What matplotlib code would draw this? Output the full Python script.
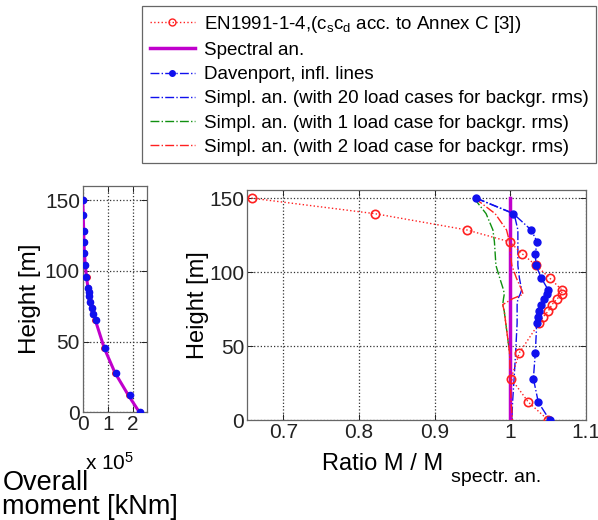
import matplotlib
matplotlib.use("Agg")
import matplotlib.pyplot as plt
from matplotlib.lines import Line2D

plt.rcParams['font.family'] = ['Liberation Sans', 'DejaVu Sans']
plt.rcParams['mathtext.fontset'] = 'custom'
plt.rcParams['mathtext.rm'] = 'Liberation Sans'
plt.rcParams['mathtext.it'] = 'Liberation Sans'

# ---------------- data ----------------
heights = [150, 139.5, 128.5, 120.5, 112.5, 104.5, 96, 88, 85, 82, 78,
           73.5, 69.5, 65.5, 45.5, 28, 12, 0]

# overall moment (x 1e5 kNm)
moment_spectral = [0.0, 0.02, 0.04, 0.05, 0.07, 0.10, 0.15, 0.21, 0.23, 0.26,
                   0.29, 0.36, 0.42, 0.50, 0.86, 1.29, 1.83, 2.27]
moment_davenport = [0.0, 0.02, 0.04, 0.05, 0.07, 0.10, 0.15, 0.22, 0.24, 0.27,
                    0.30, 0.37, 0.43, 0.52, 0.88, 1.33, 1.89, 2.30]
moment_en = [0.0, 0.02, 0.04, 0.05, 0.07, 0.10, 0.16, 0.22, 0.24, 0.27,
             0.30, 0.37, 0.43, 0.51, 0.86, 1.29, 1.86, 2.30]

# ratio M / M_spectral
ratio_en = [0.658, 0.821, 0.9425, 0.999, 1.0155, 1.034, 1.052, 1.068, 1.068,
            1.062, 1.055, 1.050, 1.043, 1.038, 1.012, 1.001, 1.024, 1.050]
ratio_spectral = [1.0] * len(heights)
ratio_davenport = [0.9545, 1.004, 1.0275, 1.0355, 1.033, 1.034, 1.041, 1.050,
                   1.049, 1.045, 1.041, 1.0385, 1.036, 1.035, 1.033, 1.0305,
                   1.037, 1.052]
ratio_simpl20 = [0.955, 1.005, 1.010, 1.010, 1.010, 1.010, 1.012, 1.015, 1.013,
                 1.010, 1.009, 1.009, 1.009, 1.009, 1.007, 1.005, 1.003, 1.002]
ratio_simpl1 = [0.952, 0.968, 0.977, 0.979, 0.980, 0.981, 0.986, 0.991, 0.992,
                0.991, 0.990, 0.992, 0.993, 0.994, 0.999, 1.000, 1.001, 1.002]
ratio_simpl2 = [0.953, 0.980, 0.995, 0.999, 1.000, 1.002, 1.008, 1.015, 1.017,
                1.003, 0.990, 0.992, 0.993, 0.994, 0.999, 1.000, 1.001, 1.003]

labels = [r'EN1991-1-4,(c$_\mathrm{s}$c$_\mathrm{d}$ acc. to Annex C [3])',
          'Spectral an.',
          'Davenport, infl. lines',
          'Simpl. an. (with 20 load cases for backgr. rms)',
          'Simpl. an. (with 1 load case for backgr. rms)',
          'Simpl. an. (with 2 load case for backgr. rms)']

RED = '#ff2020'
MAG = '#c000cc'
BLUE = '#1010ee'
GREEN = '#109010'

fig = plt.figure(figsize=(5.98, 5.2), dpi=100)

def style(ax):
    ax.grid(True, linestyle=':', color='#333333', linewidth=0.9)
    ax.tick_params(direction='in', top=True, right=True, labelsize=15,
                   length=4, width=0.7, pad=2, colors='#222222')
    for s in ax.spines.values():
        s.set_color('#666666')
        s.set_linewidth(0.9)

# ---------------- left axes ----------------
axl = fig.add_axes([0.1383, 0.2069, 0.1067, 0.4354])
axl.plot(moment_spectral, heights, color=MAG, linewidth=2.2, zorder=3)
axl.plot(moment_en, heights, 'o', color=RED, markersize=4, zorder=4)
axl.plot(moment_davenport, heights, '.', color=BLUE, markersize=9, zorder=5)
axl.set_xlim(0, 2.55)
axl.set_ylim(0, 160)
axl.set_xticks([0, 1, 2])
axl.set_xticklabels(['0', '1', '2'])
axl.set_yticks([0, 50, 100, 150])
style(axl)
axl.set_ylabel('Height [m]', fontsize=17.5, labelpad=3)
fig.text(0.142, 0.096, r'x 10$^\mathrm{5}$', fontsize=15, ha='left', va='baseline')
fig.text(0.004, 0.058, 'Overall', fontsize=19.5, ha='left', va='baseline')
fig.text(0.004, 0.012, 'moment [kNm]', fontsize=19.5, ha='left', va='baseline')

# ---------------- right axes ----------------
axr = fig.add_axes([0.413, 0.1923, 0.5669, 0.4423])
axr.plot(ratio_simpl1, heights, '-.', color=GREEN, linewidth=1.0, zorder=3)
axr.plot(ratio_simpl20, heights, '-.', color=BLUE, linewidth=1.0, zorder=3)
axr.plot(ratio_spectral, heights, '-', color=MAG, linewidth=2.5, zorder=4)
axr.plot(ratio_simpl2, heights, '-.', color=RED, linewidth=1.0, zorder=5)
axr.plot(ratio_en, heights, ':', color=RED, linewidth=1.0, marker='o',
         markersize=6, markerfacecolor='none', markeredgewidth=1.2, zorder=6)
axr.plot(ratio_davenport, heights, '-.', color=BLUE, linewidth=1.0, marker='.',
         markersize=10, zorder=7)
axr.set_xlim(0.652, 1.1)
axr.set_ylim(0, 155.5)
axr.set_xticks([0.7, 0.8, 0.9, 1.0, 1.1])
axr.set_xticklabels(['0.7', '0.8', '0.9', '1', '1.1'])
axr.set_yticks([0, 50, 100, 150])
style(axr)
axr.set_ylabel('Height [m]', fontsize=17, labelpad=0)
fig.text(0.538, 0.097, 'Ratio M / M', fontsize=17, ha='left', va='baseline')
fig.text(0.755, 0.074, 'spectr. an.', fontsize=14, ha='left', va='baseline')

# ---------------- legend ----------------
handles = [
    Line2D([], [], linestyle=':', color=RED, marker='o', markersize=5,
           markerfacecolor='none', linewidth=1.0),
    Line2D([], [], linestyle='-', color=MAG, linewidth=2.5),
    Line2D([], [], linestyle='-.', color=BLUE, marker='.', markersize=8, linewidth=1.0),
    Line2D([], [], linestyle='-.', color=BLUE, linewidth=1.0),
    Line2D([], [], linestyle='-.', color=GREEN, linewidth=1.0),
    Line2D([], [], linestyle='-.', color=RED, linewidth=1.0),
]
leg = fig.legend(handles, labels, loc='upper right',
                 bbox_to_anchor=(0.997, 0.988), fontsize=13.5, frameon=True,
                 fancybox=False, edgecolor='#666666', framealpha=1,
                 handlelength=2.4, handletextpad=0.5, borderpad=0.4,
                 labelspacing=0.38, borderaxespad=0)
leg.get_frame().set_linewidth(0.9)

fig.savefig('out.png', dpi=100)
